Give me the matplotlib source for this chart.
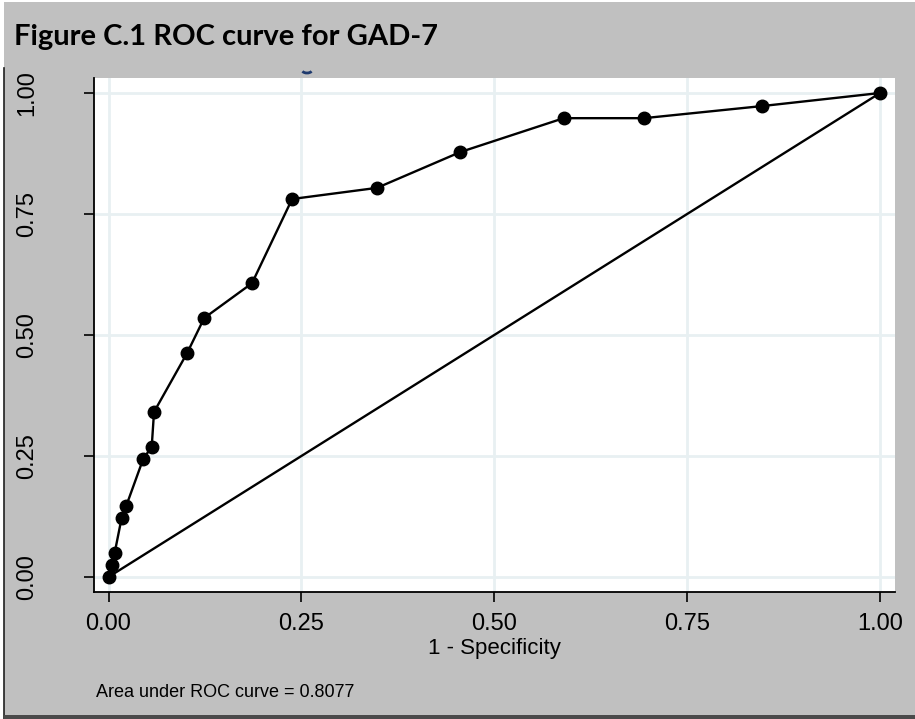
import matplotlib
matplotlib.use("Agg")
import matplotlib.pyplot as plt
from matplotlib.patches import Rectangle, Arc
from matplotlib.lines import Line2D

# Data
one_minus_spec = [0.0, 0.004, 0.008, 0.017, 0.023, 0.045, 0.056, 0.059, 0.102, 0.124,
                  0.186, 0.238, 0.348, 0.456, 0.590, 0.694, 0.847, 1.0]
sensitivity = [0.0, 0.025, 0.050, 0.122, 0.147, 0.244, 0.269, 0.341, 0.463, 0.535,
               0.607, 0.781, 0.804, 0.878, 0.948, 0.948, 0.973, 1.0]
ref_line = [0.0, 1.0]
tick_vals = [0.0, 0.25, 0.5, 0.75, 1.0]
tick_labels = ["0.00", "0.25", "0.50", "0.75", "1.00"]
title = "Figure C.1 ROC curve for GAD-7"
xlabel = "1 - Specificity"
note = "Area under ROC curve = 0.8077"

W, H = 915, 719
fig = plt.figure(figsize=(W / 100, H / 100), dpi=100)
fig.patch.set_facecolor("white")

def fx(px):
    return px / W

def fy(py):
    return 1 - py / H

# grey background
fig.patches.append(Rectangle((fx(4), 0), 1 - fx(4), fy(2), transform=fig.transFigure,
                             facecolor="#c0c0c0", edgecolor="none", zorder=-5))
# left border line (below title band)
fig.add_artist(Line2D([fx(4), fx(4)], [fy(68), 0], transform=fig.transFigure,
                      color="#202020", lw=1.2, zorder=-4))
# bottom border
fig.patches.append(Rectangle((fx(4), 0), 1 - fx(4), 4 / H, transform=fig.transFigure,
                             facecolor="#4a4a4a", edgecolor="none", zorder=-4))

# small artifact arc near top
fig.add_artist(Arc((fx(307), fy(70)), 10 / W, 6 / H, theta1=200, theta2=340,
                   transform=fig.transFigure, color="#1f3a6e", lw=2, zorder=-3))

fig.text(fx(14), fy(45), title, fontsize=21, fontweight="bold", family="Lato",
         color="black", va="baseline", ha="left")

ax = fig.add_axes([fx(94), fy(592), fx(895) - fx(94), fy(78) - fy(592)])
ax.set_facecolor("white")
ax.set_xlim(-0.0188, 1.0194)
ax.set_ylim(-0.031, 1.031)

ax.plot(ref_line, ref_line, color="black", lw=1.7, zorder=3)
ax.plot(one_minus_spec, sensitivity, color="black", lw=1.7, marker="o",
        markersize=9, zorder=4)

ax.set_xticks(tick_vals)
ax.set_xticklabels(tick_labels)
ax.set_yticks(tick_vals)
ax.set_yticklabels(tick_labels, rotation=90, va="center")
ax.grid(True, color="#e8f0f2", lw=2)
ax.set_axisbelow(True)

for s in ["top", "right"]:
    ax.spines[s].set_visible(False)
for s in ["left", "bottom"]:
    ax.spines[s].set_linewidth(1.3)
    ax.spines[s].set_color("black")

ax.tick_params(axis="x", length=7, width=1.2, pad=8, labelsize=17)
ax.tick_params(axis="y", length=7, width=1.2, pad=33, labelsize=17)
for lbl in ax.get_xticklabels() + ax.get_yticklabels():
    lbl.set_family("Liberation Sans")

ax.set_xlabel(xlabel, fontsize=16, family="Liberation Sans", labelpad=2)

fig.text(fx(96), fy(697), note, fontsize=13, family="Liberation Sans",
         va="baseline", ha="left")

fig.savefig("out.png", dpi=100, facecolor=fig.get_facecolor())
